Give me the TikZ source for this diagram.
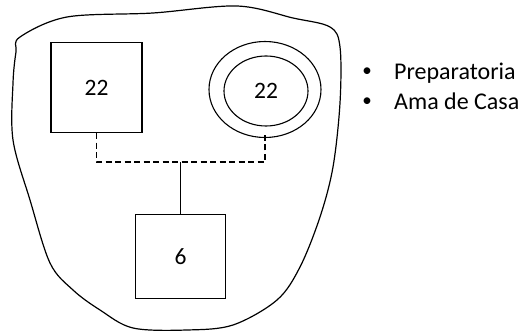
\documentclass[tikz,border=0pt]{standalone}
\usepackage{fontspec}
\setmainfont{Carlito}
\usetikzlibrary{shapes.geometric}
\begin{document}
\begin{tikzpicture}[x=1pt,y=-1pt,
  line/.style={line width=1.1pt,black},
  box/.style={draw,line width=1.1pt,inner sep=0pt,font=\fontsize{23.5}{26}\selectfont},
  ring/.style={draw,ellipse,line width=1.1pt,inner sep=0pt},
  dashedline/.style={line width=1.1pt,dash pattern=on 6pt off 3.5pt},
  bul/.style={anchor=base west,font=\fontsize{24}{28}\selectfont,inner sep=0pt},
  dot/.style={font=\fontsize{19}{19}\selectfont,inner sep=0pt}]
\useasboundingbox (0,0) rectangle (531,331);
% blob outline
\draw[line width=1.2pt] plot[smooth cycle,tension=0.55] coordinates {
 (20,37) (67,17) (153,13) (237,6) (293,18) (330,27) (340,47) (340,103)
 (333,167) (320,217) (300,267) (277,300) (233,325) (187,330) (133,328)
 (100,310) (73,290) (50,263) (30,200) (13,140) (13,83) (16,52)};
\node[box,minimum width=91pt,minimum height=90pt] (a) at (96.5,87.5) {22};
\node[ring,minimum width=112pt,minimum height=96pt] (o) at (265,89.5) {};
\node[ring,minimum width=84pt,minimum height=70pt,font=\fontsize{23.5}{26}\selectfont] (i) at (266,91) {22};
\node[box,minimum width=90pt,minimum height=84pt] (b) at (180.5,256.5) {6};
\coordinate (j) at (180.5,162);
\draw[dashedline] (a.south) |- (j) -| ([yshift=3pt]o.south);
\draw[line] (j) -- (b.north);
\node[bul] (p1) at (394,80) {Preparatoria};
\node[bul] (p2) at (394,110) {Ama de Casa};
\node[dot] (d1) at (367,72.5) {•};
\node[dot] (d2) at (367,102.5) {•};
\end{tikzpicture}
\end{document}
